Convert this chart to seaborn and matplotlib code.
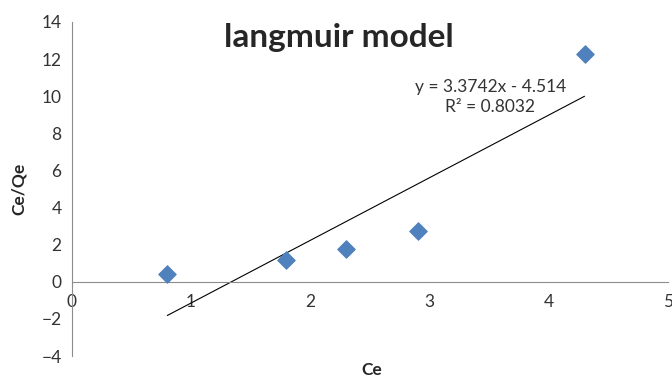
import numpy as np
import pandas as pd
import matplotlib
matplotlib.use("Agg")
import matplotlib.pyplot as plt
import seaborn as sns

ce = [0.8, 1.8, 2.3, 2.9, 4.3]
ce_qe = [0.4, 1.15, 1.75, 2.75, 12.25]
slope = 3.3742
intercept = -4.514
r2 = 0.8032

sns.set_theme(style="white")
plt.rcParams['font.family'] = ['Lato', 'DejaVu Sans']

df = pd.DataFrame({'Ce': ce, 'Ce/Qe': ce_qe})
fit = pd.DataFrame({'x': [min(ce), max(ce)]})
fit['y'] = slope * fit['x'] + intercept

fig = plt.figure(figsize=(6.72, 3.78), dpi=100)
ax = fig.add_axes([0.107, 0.058, 0.887, 0.884])

sns.lineplot(data=fit, x='x', y='y', ax=ax, color='black', linewidth=0.8)
sns.scatterplot(data=df, x='Ce', y='Ce/Qe', ax=ax, marker='D', s=80,
                color='#4F81BD', edgecolor='#4F81BD', zorder=3)

ax.set_xlim(0, 5)
ax.set_ylim(-4, 14)
ax.set_xticks(range(0, 6))
ax.set_yticks(range(-4, 15, 2))

for s in ['top', 'right']:
    ax.spines[s].set_visible(False)
ax.spines['bottom'].set_position(('data', 0))
for s in ['bottom', 'left']:
    ax.spines[s].set_color('#8c8c8c')
    ax.spines[s].set_linewidth(0.8)
ax.tick_params(axis='both', which='major', direction='out', length=4,
               color='#8c8c8c', labelsize=12.5, labelcolor='#333333')
ax.tick_params(axis='x', pad=5)

ax.set_xlabel('')
ax.set_ylabel('Ce/Qe', fontsize=12.5, fontweight='bold', labelpad=10)
fig.text(372 / 672, 1 - 370 / 378, 'Ce', fontsize=12.5, fontweight='bold',
         ha='center', va='center')

ax.set_title('')
fig.text(339 / 672, 1 - 38 / 378, 'langmuir model', fontsize=24,
         fontweight='bold', ha='center', va='center')

ax.text(3.51, 9.95, f'y = {slope}x - {abs(intercept)}\nR² = {r2}',
        ha='center', va='center', fontsize=12.5, color='#333333',
        linespacing=1.35)

fig.savefig('out.png', dpi=100)
